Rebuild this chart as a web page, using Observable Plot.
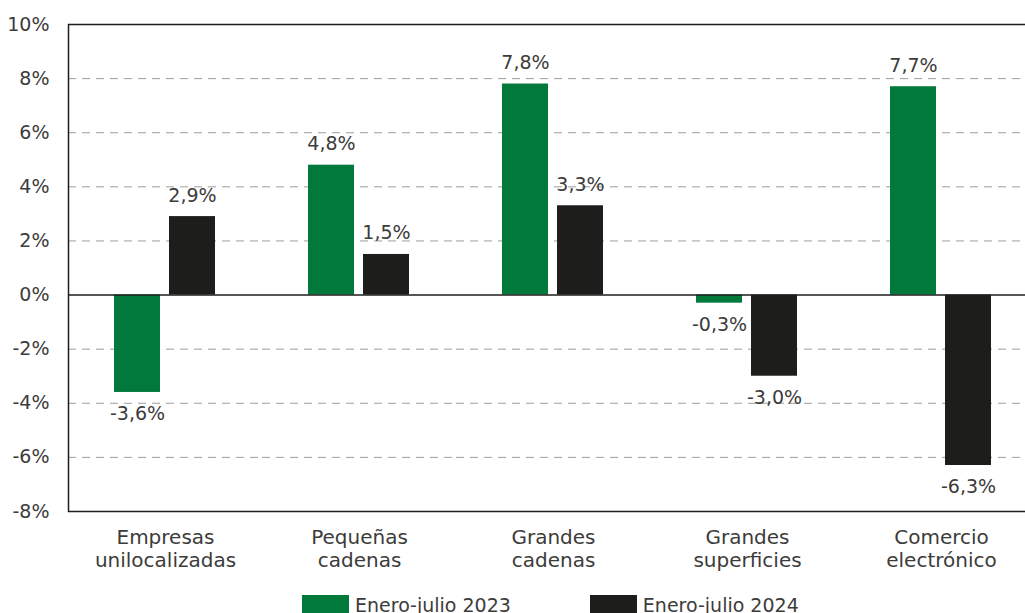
<!DOCTYPE html>
<html>
<head>
<meta charset="utf-8">
<script src="https://cdn.jsdelivr.net/npm/d3@7"></script>
<script src="https://cdn.jsdelivr.net/npm/@observablehq/plot@0.6"></script>
<style>
  html, body { margin: 0; padding: 0; background: #fff; overflow: hidden; width: 1025px; height: 613px; }
  #chart svg { display: block; max-width: none !important; }
  #legend { display: flex; align-items: center; margin-left: 302px; margin-top: 14px; font-family: "DejaVu Sans", sans-serif; font-size: 19px; line-height: 21px; color: #3c3c3b; white-space: nowrap; }
  .item { display: flex; align-items: center; margin-right: 79px; }
  .sw { width: 47px; height: 21px; margin-right: 6px; }
</style>
</head>
<body>
<div id="chart"></div>
<div id="legend"></div>
<script>
const categories = ["Empresas\nunilocalizadas", "Pequeñas\ncadenas", "Grandes\ncadenas", "Grandes\nsuperficies", "Comercio\nelectrónico"];
const series = ["Enero-julio 2023", "Enero-julio 2024"];
const values2023 = [-3.6, 4.8, 7.8, -0.3, 7.7];
const values2024 = [2.9, 1.5, 3.3, -3.0, -6.3];
const yTicks = [-8, -6, -4, -2, 0, 2, 4, 6, 8, 10];
const colors = ["#00793a", "#1d1d1b"];

const data = [];
categories.forEach((c, i) => {
  data.push({cat: c, series: series[0], value: values2023[i]});
  data.push({cat: c, series: series[1], value: values2024[i]});
});
const fmt = v => v.toFixed(1).replace(".", ",") + "%";
const gridTicks = yTicks.filter(t => t !== 0 && t !== yTicks[0] && t !== yTicks[yTicks.length - 1]);
const ink = "#3c3c3b";

const chart = Plot.plot({
  width: 1040,
  height: 581,
  marginLeft: 67,
  marginRight: 1,
  marginTop: 24,
  marginBottom: 70,
  style: {fontFamily: "'DejaVu Sans', sans-serif", fontSize: "19px", color: ink, background: "#fff"},
  fx: {domain: categories, padding: 0, axis: null},
  x: {domain: series, paddingInner: 0.16, paddingOuter: 0.816, axis: null},
  y: {domain: [yTicks[0], yTicks[yTicks.length - 1]], axis: null},
  color: {domain: series, range: colors},
  marks: [
    Plot.ruleY(gridTicks, {stroke: "#9d9d9c", strokeDasharray: "8,6"}),
    Plot.barY(data, {fx: "cat", x: "series", y: "value", fill: "series"}),
    Plot.ruleY([0], {stroke: "#1d1d1b", strokeWidth: 1.5}),
    Plot.frame({stroke: "#1d1d1b", strokeWidth: 1.5, facet: "super"}),
    Plot.axisY(yTicks, {anchor: "left", tickFormat: d => d + "%", label: null, tickSize: 0, tickPadding: 19, fontSize: 19, fill: ink}),
    Plot.axisFx({anchor: "bottom", label: null, tickSize: 0, tickPadding: 16, fontSize: 20, lineHeight: 1.15, fill: ink}),
    Plot.text(data.filter(d => d.value >= 0), {fx: "cat", x: "series", y: "value", text: d => fmt(d.value), lineAnchor: "bottom", dy: -15, fill: ink, fontSize: 19}),
    Plot.text(data.filter(d => d.value < 0), {fx: "cat", x: "series", y: "value", text: d => fmt(d.value), lineAnchor: "top", dy: 14, fill: ink, fontSize: 19})
  ]
});
document.getElementById("chart").appendChild(chart);

const legend = document.getElementById("legend");
series.forEach((s, i) => {
  const item = document.createElement("div");
  item.className = "item";
  const sw = document.createElement("div");
  sw.className = "sw";
  sw.style.background = colors[i];
  const lab = document.createElement("span");
  lab.textContent = s;
  item.appendChild(sw);
  item.appendChild(lab);
  legend.appendChild(item);
});
</script>
</body>
</html>
